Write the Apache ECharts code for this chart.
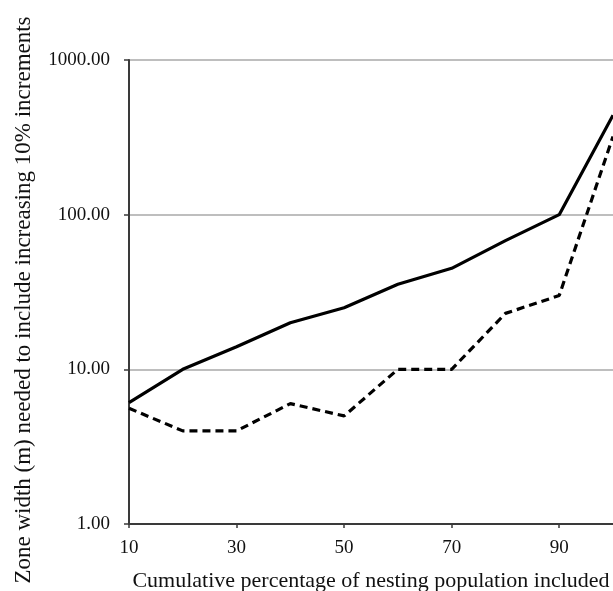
<!DOCTYPE html>
<html>
<head>
<meta charset="utf-8">
<script src="https://cdn.jsdelivr.net/npm/echarts@6/dist/echarts.min.js"></script>
<style>
html,body{margin:0;padding:0;background:#fff;}
#chart{width:613px;height:591px;}
</style>
</head>
<body>
<div id="chart"></div>
<script>
// Cumulative percentage of nesting population included
const percentIncluded = [10, 20, 30, 40, 50, 60, 70, 80, 90, 100];
// Zone width (m), solid line
const solidSeries = [6.1, 10, 14, 20, 25, 35.5, 45, 68, 100, 440];
// Zone width (m), dashed line
const dashedSeries = [5.6, 4, 4, 6, 5, 10, 10, 23, 30, 320];
const xTickValues = [10, 30, 50, 70, 90];

const xAxisTitle = 'Cumulative percentage of nesting population included';
const yAxisTitle = 'Zone width (m) needed to include increasing 10% increments';

const font = 'Liberation Serif';
const chart = echarts.init(document.getElementById('chart'), null, {renderer: 'canvas'});

function pairs(ys) { return percentIncluded.map((x, i) => [x, ys[i]]); }

chart.setOption({
  animation: false,
  backgroundColor: '#fff',
  grid: {left: 129, right: 0, top: 60, bottom: 67, containLabel: false, outerBoundsMode: 'none'},
  xAxis: {
    type: 'value',
    min: 10, max: 100, interval: 20,
    name: xAxisTitle,
    nameLocation: 'middle',
    nameGap: 46,
    nameTextStyle: {fontFamily: font, fontSize: 22, color: '#111'},
    axisLine: {show: true, lineStyle: {color: '#3a3a3a', width: 2}},
    axisTick: {show: true, length: 4, lineStyle: {color: '#3a3a3a', width: 1.5},
      customValues: xTickValues},
    axisLabel: {fontFamily: font, fontSize: 19, color: '#111', margin: 15,
      customValues: xTickValues,
      formatter: v => xTickValues.includes(v) ? String(v) : ''},
    splitLine: {show: false}
  },
  yAxis: {
    type: 'log',
    logBase: 10,
    min: 1, max: 1000,
    name: yAxisTitle,
    nameLocation: 'middle',
    nameRotate: 90,
    nameGap: 94,
    nameTextStyle: {fontFamily: font, fontSize: 23, color: '#111', padding: [0, 16, 0, 0]},
    axisLine: {show: true, lineStyle: {color: '#3a3a3a', width: 2}},
    axisTick: {show: true, length: 5, lineStyle: {color: '#3a3a3a', width: 1.5}},
    axisLabel: {fontFamily: font, fontSize: 19, color: '#111', margin: 19,
      formatter: v => Number(v).toFixed(2)},
    splitLine: {show: true, lineStyle: {color: '#a8a8a8', width: 1.5}},
    minorTick: {show: false},
    minorSplitLine: {show: false}
  },
  series: [
    {
      name: 'solid', type: 'line', data: pairs(solidSeries),
      showSymbol: false, symbol: 'none',
      lineStyle: {color: '#000', width: 3.2, type: 'solid'},
      clip: true
    },
    {
      name: 'dashed', type: 'line', data: pairs(dashedSeries),
      showSymbol: false, symbol: 'none',
      lineStyle: {color: '#000', width: 3.2, type: [8, 5]},
      clip: true
    }
  ]
});
</script>
</body>
</html>
